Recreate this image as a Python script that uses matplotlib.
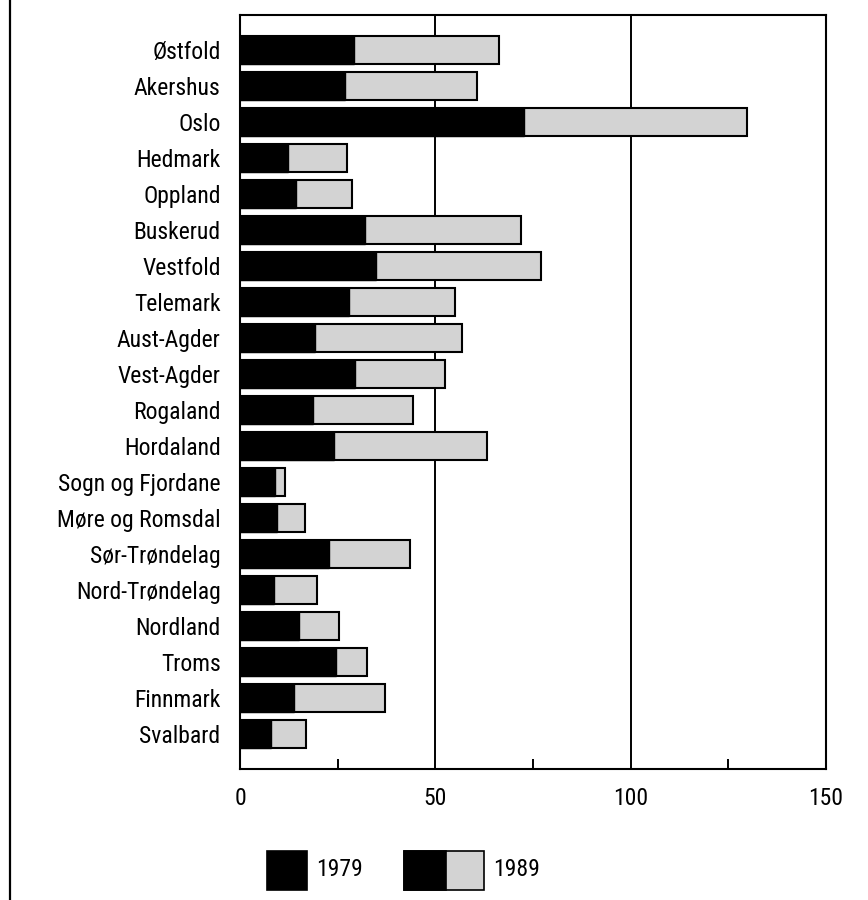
import matplotlib
matplotlib.use("Agg")
import matplotlib.pyplot as plt
from matplotlib import font_manager
from matplotlib.patches import Rectangle
from matplotlib.lines import Line2D

counties = ["Østfold", "Akershus", "Oslo", "Hedmark", "Oppland", "Buskerud",
            "Vestfold", "Telemark", "Aust-Agder", "Vest-Agder", "Rogaland",
            "Hordaland", "Sogn og Fjordane", "Møre og Romsdal", "Sør-Trøndelag",
            "Nord-Trøndelag", "Nordland", "Troms", "Finnmark", "Svalbard"]
v1979 = [29.3, 26.9, 72.8, 12.4, 14.3, 32.0, 34.7, 28.0, 19.2, 29.5,
         18.8, 24.1, 8.9, 9.4, 22.8, 8.6, 15.2, 24.6, 13.8, 7.9]
v1989 = [66.4, 60.7, 129.9, 27.5, 28.6, 71.9, 77.1, 55.1, 56.9, 52.6,
         44.4, 63.2, 11.6, 16.6, 43.5, 19.7, 25.4, 32.4, 37.1, 16.9]
xticks = [0, 50, 100, 150]
minor_ticks = [25, 75, 125]
legend_labels = ["1979", "1989"]

# pick a condensed font if available
names = {f.name for f in font_manager.fontManager.ttflist}
family = "Liberation Sans"
for cand in ["Liberation Sans Narrow", "Roboto Condensed", "Open Sans Condensed",
             "DejaVu Sans Condensed", "Arial Narrow"]:
    if cand in names:
        family = cand
        break
narrow = family != "Liberation Sans"
fs = 17 if narrow else 14.5
plt.rcParams['font.family'] = [family, "DejaVu Sans"]

W, H = 868, 900
fig = plt.figure(figsize=(W / 100, H / 100), dpi=100)
ax = fig.add_axes([240 / W, (H - 769) / H, 586 / W, 754 / H])

gray = "#d3d3d3"
ypos = list(range(len(counties)))
bh = 0.78
ax.barh(ypos, v1989, height=bh, color=gray, edgecolor="black", linewidth=1.5, zorder=3)
ax.barh(ypos, v1979, height=bh, color="black", edgecolor="black", linewidth=1.0, zorder=4)

ax.set_xlim(0, 150)
ax.set_ylim(len(counties) - 1 + 0.97, -0.97)
ax.set_yticks(ypos)
ax.set_yticklabels(counties, fontsize=fs)
ax.tick_params(axis="y", length=0, pad=14)
ax.set_xticks(xticks)
ax.set_xticklabels([str(t) for t in xticks], fontsize=fs)
ax.set_xticks(minor_ticks, minor=True)
ax.tick_params(axis="x", which="major", length=0, pad=13)
ax.tick_params(axis="x", which="minor", direction="in", length=7, width=1.4, color="black")
for x in [50, 100]:
    ax.axvline(x, color="black", linewidth=1.4, zorder=2)
for s in ax.spines.values():
    s.set_linewidth(1.5)
    s.set_color("black")

# page border line on the left
fig.add_artist(Line2D([10 / W, 10 / W], [0, 1], transform=fig.transFigure,
                      color="black", linewidth=1.6))

# legend drawn manually in figure pixel coordinates
def frect(x0, y0, w, h, fc):
    fig.add_artist(Rectangle((x0 / W, (H - y0 - h) / H), w / W, h / H,
                             transform=fig.transFigure, facecolor=fc,
                             edgecolor="black", linewidth=1.2))

frect(267, 851, 40, 39, "black")
fig.text(316 / W, (H - 870) / H, legend_labels[0], fontsize=fs, va="center", ha="left")
frect(404, 851, 80, 39, gray)
frect(404, 851, 42, 39, "black")
fig.text(493 / W, (H - 870) / H, legend_labels[1], fontsize=fs, va="center", ha="left")

fig.savefig("out.png", dpi=100)
